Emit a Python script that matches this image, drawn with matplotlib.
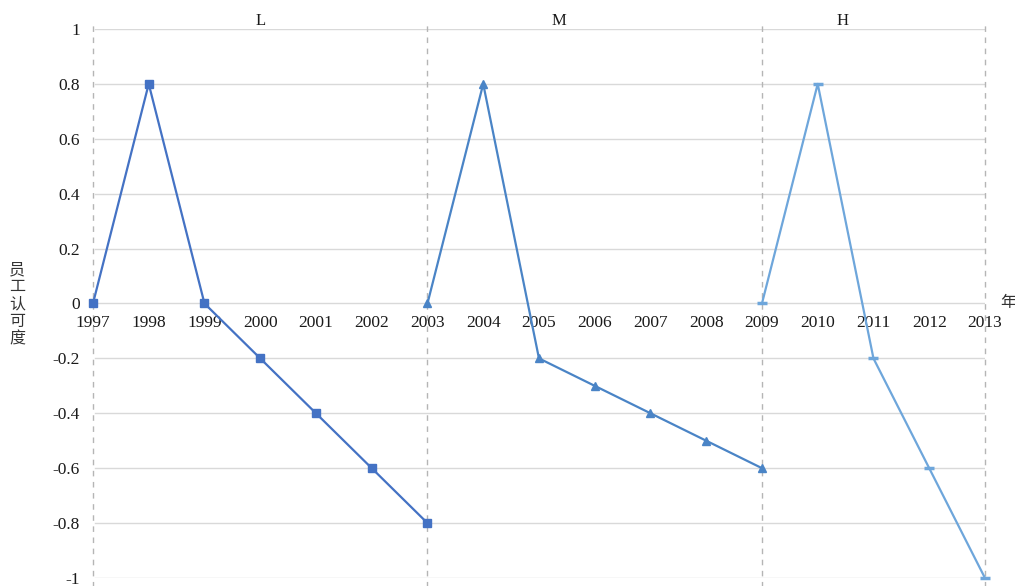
import matplotlib
matplotlib.use("Agg")
import matplotlib.pyplot as plt

years = list(range(1997, 2014))
l_years = [1997, 1998, 1999, 2000, 2001, 2002, 2003]
l_vals = [0, 0.8, 0, -0.2, -0.4, -0.6, -0.8]
m_years = [2003, 2004, 2005, 2006, 2007, 2008, 2009]
m_vals = [0, 0.8, -0.2, -0.3, -0.4, -0.5, -0.6]
h_years = [2009, 2010, 2011, 2012, 2013]
h_vals = [0, 0.8, -0.2, -0.6, -1.0]
yticks = [1, 0.8, 0.6, 0.4, 0.2, 0, -0.2, -0.4, -0.6, -0.8, -1]
ytick_labels = ["1", "0.8", "0.6", "0.4", "0.2", "0", "-0.2", "-0.4", "-0.6", "-0.8", "-1"]
dividers = [1997, 2003, 2009, 2013]
section_labels = ["L", "M", "H"]
section_pos = [2000.0, 2005.35, 2010.45]

serif = "Liberation Serif"
cjk = ["Noto Sans CJK SC", "DejaVu Sans"]
txt = "#1a1a1a"

fig = plt.figure(figsize=(10.15, 5.86), dpi=100)
ax = fig.add_axes([0.0916, 0.0137, 0.8788, 0.9368])
ax.set_xlim(1997, 2013)
ax.set_ylim(-1, 1)

for s in ax.spines.values():
    s.set_visible(False)
ax.spines['bottom'].set_position(('data', 0))

ax.set_yticks(yticks)
ax.set_yticklabels(ytick_labels, fontfamily=serif, fontsize=12.5, color=txt)
ax.set_xticks(years)
ax.set_xticklabels([str(y) for y in years], fontfamily=serif, fontsize=12.5, color=txt)
ax.tick_params(axis='y', length=0, pad=9.5)
ax.tick_params(axis='x', length=0, pad=8.5)

for y in yticks:
    ax.plot([1997.04, 2013], [y, y], color="#d9d9d9", lw=1.0, zorder=1)

for d in dividers:
    ax.axvline(d, ymin=-0.02, ymax=1.01, color="#b5b5b5", lw=1.0,
               ls=(0, (4, 4)), clip_on=False, zorder=1)

ax.plot(l_years, l_vals, color="#4472c4", lw=1.6, marker="s", ms=5.5, zorder=3, clip_on=False)
ax.plot(m_years, m_vals, color="#4a84c6", lw=1.6, marker="^", ms=6, zorder=3, clip_on=False)
ax.plot(h_years, h_vals, color="#6ea6db", lw=1.6, marker="_", ms=7.5, mew=2.5, zorder=3, clip_on=False)

for lab, xp in zip(section_labels, section_pos):
    ax.text(xp, 1.03, lab, ha="center", va="center", fontfamily=serif, fontsize=12, color=txt)

fig.text(17 / 1015, 1 - 304 / 586, "员\n工\n认\n可\n度", ha="center", va="center",
         family=cjk, fontsize=11.5, linespacing=1.02, color="#333333")
fig.text(1008 / 1015, 1 - 302 / 586, "年", ha="center", va="center",
         family=cjk, fontsize=11.5, color="#333333")

fig.savefig("out.png", dpi=100)
